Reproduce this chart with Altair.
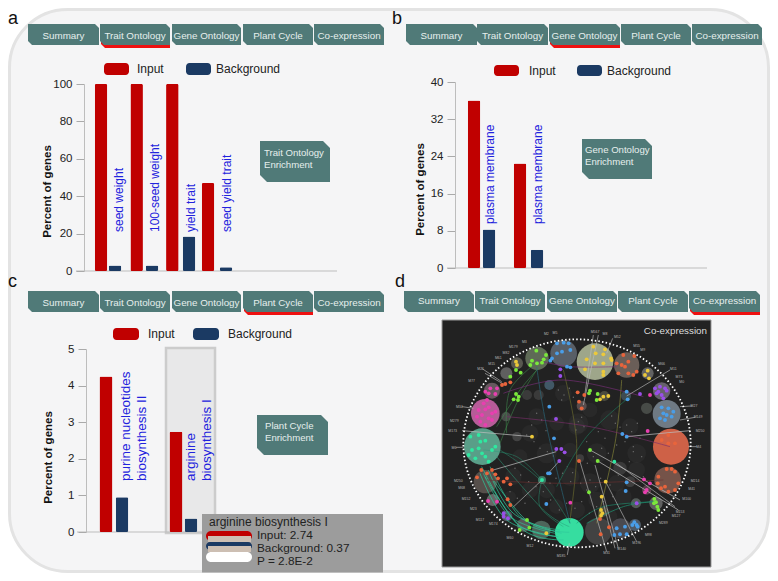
import altair as alt
import pandas as pd

FONT = "Liberation Sans"
TEAL = "#507a78"
RED = "#c00000"
NAVY = "#1b3a63"
BLUE = "#2222dd"
TAB_NAMES = ["Summary", "Trait Ontology", "Gene Ontology", "Plant Cycle", "Co-expression"]

# ---------- chart values ----------
A_TERMS = ["seed weight", "100-seed weight", "yield trait", "seed yield trait"]
A_INPUT = [100, 100, 100, 47]
A_BACK = [3, 3, 18.5, 2]
B_TERMS = ["plasma membrane", "plasma membrane"]
B_INPUT = [36, 22.5]
B_BACK = [8.3, 3.9]
C_TERMS = ["purine nucleotides\nbiosynthesis II", "arginine\nbiosynthesis I"]
C_INPUT = [4.25, 2.74]
C_BACK = [0.95, 0.37]
A_TICKS = [0, 20, 40, 60, 80, 100]
B_TICKS = [0, 8, 16, 24, 32, 40]
C_TICKS = [0, 1, 2, 3, 4, 5]
TIP_LINES = ["arginine biosynthesis I", "Input: 2.74", "Background: 0.37", "P = 2.8E-2"]

# ---------- co-expression network, in picture units ----------
DISC_X = [495, 590, 653, 695, 710, 723, 713, 678, 618, 615, 572, 505, 418, 334, 281, 231, 188, 166, 157, 166, 228, 186, 229, 261, 321, 401, 261, 358, 291, 326, 455, 523, 588, 650, 336, 450, 570, 600, 650, 520]
DISC_Y = [155, 165, 190, 243, 312, 410, 510, 580, 580, 645, 655, 663, 667, 660, 645, 618, 570, 515, 410, 310, 320, 242, 190, 160, 145, 130, 380, 225, 255, 255, 288, 258, 258, 295, 510, 445, 475, 515, 540, 605]
DISC_R = [55, 38, 18, 26, 42, 54, 40, 20, 15, 18, 30, 40, 43, 28, 20, 16, 18, 35, 55, 43, 14, 24, 18, 18, 35, 40, 14, 15, 15, 15, 15, 15, 15, 17, 12, 12, 20, 16, 14, 15]
DISC_C = ["#a5ae90", "#6f625c", "#666666", "#6a6570", "#74808a", "#d8654a", "#7a564c", "#646464", "#565f5c", "#515e6c", "#4c4c52", "#454545", "#38e8a8", "#51695f", "#5c5c5c", "#55555f", "#6c6c6c", "#5a524e", "#5da58e", "#c0609f", "#4c4c4c", "#6a5c62", "#636363", "#5c5c52", "#626f5a", "#5c626a", "#444444", "#435c6a", "#3c3c3c", "#3c3c3c", "#5c4e4e", "#4e4e40", "#404e54", "#4a4e4a", "#3f7f6a", "#404040", "#3c3c3c", "#404040", "#5c404e", "#4e4e40"]
DIM_X = [400, 445, 320, 300, 350, 420, 480, 540, 600, 620, 580, 500, 440, 380, 300, 250, 240, 270, 350, 440, 500, 560, 480, 420, 620, 380, 540]
DIM_Y = [250, 340, 320, 370, 430, 500, 520, 330, 350, 430, 560, 570, 600, 590, 540, 500, 560, 440, 540, 350, 430, 520, 300, 420, 480, 340, 620]
DIM_R = [25, 30, 25, 25, 30, 28, 30, 30, 25, 28, 25, 25, 25, 22, 25, 25, 18, 22, 25, 25, 30, 25, 22, 22, 25, 22, 22]
SPECK_X = [385, 402, 418, 395, 430, 445, 462, 438, 455, 320, 335, 305, 348, 290, 312, 330, 352, 370, 392, 412, 428, 480, 497, 512, 470, 525, 540, 556, 545, 570, 590, 605, 622, 610, 635, 598, 580, 565, 548, 520, 500, 478, 455, 435, 410, 388, 362, 340, 318, 296, 272, 255, 240, 262, 285, 360, 378, 398, 422, 452, 472, 490, 515, 535, 560, 585, 610, 630, 640, 505, 525, 470]
SPECK_Y = [240, 255, 235, 270, 262, 335, 350, 360, 322, 310, 330, 345, 362, 375, 395, 415, 425, 438, 452, 470, 488, 510, 530, 505, 540, 515, 525, 340, 318, 352, 345, 365, 340, 425, 440, 455, 470, 495, 560, 575, 590, 610, 575, 595, 580, 600, 570, 545, 530, 515, 495, 475, 545, 565, 580, 520, 505, 490, 515, 520, 460, 440, 415, 430, 405, 395, 410, 385, 500, 365, 385, 395]

NODE_COLORS = {"lime": "#7be83c", "yellow": "#ecc93a", "blue": "#4a9ee8", "purple": "#9a4fe8",
               "orange": "#e8643c", "pink": "#e83fb0", "mint": "#2fe8a0"}
# [colour, crop offset x, crop offset y, points]
NODES = [
    ["lime", 36, 30, [(283,92),(270,122),(265,135),(285,130),(300,128),(312,105),(305,118),(222,222),(230,230),(215,238),(228,240),(236,158),(222,150),(205,170)]],
    ["yellow", 36, 30, [(222,125),(225,135),(270,350)]],
    ["blue", 36, 30, [(345,70),(365,68),(380,70),(360,95),(345,100),(330,115),(325,122),(385,90),(375,140),(385,142),(322,260),(336,355)]],
    ["purple", 36, 30, [(355,148),(355,168),(342,297)]],
    ["orange", 36, 30, [(190,192),(205,187),(180,195)]],
    ["pink", 36, 30, [(130,215),(145,205),(165,205),(160,222),(140,220),(125,250),(140,262),(110,270),(130,268),(150,280),(120,285),(140,295),(115,305),(130,315),(150,300),(105,290),(135,240),(160,275)]],
    ["mint", 36, 30, [(110,345),(130,362),(85,350),(115,365)]],
    ["yellow", 435, 30, [(35,118),(62,100),(85,103),(55,80),(90,88),(108,115),(85,130),(60,130),(30,148),(85,155),(85,165),(110,120),(218,152),(210,165),(222,175),(85,230),(100,228),(75,238)]],
    ["orange", 435, 30, [(125,130),(145,105),(178,108),(160,125),(150,140),(185,155),(130,160),(160,160),(175,165),(140,135),(8,217),(28,225),(12,245),(20,265),(280,345),(260,360),(300,370),(280,370)]],
    ["lime", 435, 30, [(45,212),(68,222),(65,240),(42,220)]],
    ["blue", 435, 30, [(158,238),(155,215),(260,262),(280,265),(265,280),(290,290),(270,300),(255,295),(275,285),(295,275),(142,342),(155,350)]],
    ["purple", 435, 30, [(240,205),(255,200),(270,205),(245,220),(260,225),(275,212),(265,235),(195,222),(250,215)]],
    ["pink", 435, 30, [(225,225),(218,333)]],
    ["mint", 36, 405, [(90,15),(110,10),(130,35),(150,15),(100,40),(120,25),(300,105),(160,5),(80,30),(140,50)]],
    ["orange", 36, 405, [(118,75),(150,75),(105,97),(135,85),(160,88),(168,100),(195,100),(185,110),(205,118),(197,163),(205,180)]],
    ["pink", 36, 405, [(138,168),(165,170),(385,173)]],
    ["purple", 36, 405, [(185,205),(198,220),(185,215),(343,12),(358,12),(368,22),(352,48)]],
    ["lime", 36, 405, [(255,225),(262,248),(233,255)]],
    ["yellow", 36, 405, [(313,265)]],
    ["blue", 36, 405, [(318,85),(323,85),(313,177)]],
    ["lime", 435, 405, [(45,15),(68,48),(42,142),(238,162),(243,172),(247,185),(250,195),(237,175)]],
    ["orange", 435, 405, [(12,48),(275,72),(290,72),(300,80),(250,95),(248,115),(258,130),(280,140),(300,135),(310,115),(75,222),(102,247),(77,268),(270,125)]],
    ["mint", 435, 405, [(118,50)]],
    ["yellow", 435, 405, [(92,110),(80,155),(78,195),(82,205),(78,212)]],
    ["blue", 435, 405, [(155,112),(152,138),(172,240),(185,240),(178,232),(150,245),(125,250),(135,268),(118,270),(155,268),(188,245)]],
    ["pink", 435, 405, [(207,103),(225,115),(215,135),(210,142)]],
    ["purple", 435, 405, [(185,175)]],
]
# [colour, opacity, points]
EDGES = [
    ["#2fc89a", .8, [(418,667),(300,640),(190,510)]],
    ["#2fc89a", .8, [(400,690),(280,660),(165,500)]],
    ["#2fc89a", .8, [(385,680),(260,640),(155,470)]],
    ["#2fc89a", .8, [(380,680),(230,630),(150,490)]],
    ["#2fc89a", .8, [(395,670),(250,610),(175,480)]],
    ["#2fc89a", .7, [(375,670),(240,620),(160,490)]],
    ["#2fc89a", .7, [(390,660),(270,620),(180,470)]],
    ["#2a9e7a", .6, [(418,650),(340,600),(200,440)]],
    ["#2a9e7a", .5, [(420,640),(330,510),(210,420)]],
    ["#2a9e7a", .5, [(336,510),(260,440),(160,420)]],
    ["#2a9e7a", .5, [(336,510),(330,590),(400,650)]],
    ["#3f8f4f", .6, [(230,370),(240,240),(330,150)]],
    ["#3f8f4f", .6, [(200,350),(270,240),(330,170)]],
    ["#3f8f4f", .6, [(210,400),(260,280),(320,180)]],
    ["#1f6f55", .8, [(380,530),(470,380),(600,260)]],
    ["#1f8f6f", .8, [(470,640),(580,590),(670,575)]],
    ["#1f8f6f", .7, [(440,640),(520,590),(680,575)]],
    ["#8a8a3a", .7, [(575,210),(555,400),(500,640)]],
    ["#7a7a30", .6, [(400,180),(440,400),(420,630)]],
    ["#7a2f7a", .7, [(220,250),(400,210),(640,260)]],
    ["#7a2f6a", .7, [(230,320),(480,350),(720,410)]],
    ["#6a3030", .7, [(170,510),(400,520),(700,510)]],
    ["#7a2f7a", .7, [(320,150),(420,170),(560,170)]],
    ["#2a6a80", .7, [(320,170),(350,350),(420,640)]],
    ["#bdbdbd", .8, [(306,380),(96,362)]],
    ["#bdbdbd", .8, [(190,480),(379,425)]],
    ["#bdbdbd", .8, [(590,380),(780,362)]],
    ["#bdbdbd", .8, [(480,420),(750,570)]],
    ["#bdbdbd", .8, [(503,453),(745,600)]],
    ["#bdbdbd", .7, [(553,455),(735,590)]],
    ["#bdbdbd", .7, [(450,455),(530,725)]],
    ["#bdbdbd", .7, [(495,465),(565,715)]],
    ["#bdbdbd", .7, [(527,515),(620,695)]],
    ["#bdbdbd", .7, [(515,560),(555,715)]],
    ["#bdbdbd", .7, [(336,510),(251,590)]],
    ["#bdbdbd", .7, [(388,453),(355,490)]],
    ["#bdbdbd", .7, [(465,250),(490,75)]],
    ["#bdbdbd", .7, [(460,285),(505,75)]],
    ["#bdbdbd", .7, [(590,258),(720,180)]],
    ["#bdbdbd", .7, [(530,130),(548,85)]],
    ["#bdbdbd", .7, [(418,700),(412,735)]],
    ["#bdbdbd", .7, [(100,412),(78,412)]],
    ["#bdbdbd", .7, [(775,410),(800,410)]],
    ["#bdbdbd", .7, [(130,295),(96,290)]],
    ["#bdbdbd", .7, [(165,190),(225,225)]],
    ["#bdbdbd", .7, [(155,175),(215,215)]],
    ["#bdbdbd", .7, [(750,290),(785,288)]],
    ["#bdbdbd", .7, [(750,330),(795,322)]],
]
NET_LABELS = ["M2","M5","M567","M8","M52","M55","M9","M66","M11","M73","M0","M27","M149","M250","M4","M214","M41","M100","M153","M127","M289","M98","M196","M140","M31","M185","M12","M60","M174","M117","M23","M152","M68","M250","M6","M173","M279","M34","M77","M21","M15","M61","M82","M179","M3"]
NET_LABEL_X = [349,375,495,525,562,620,638,695,730,747,755,792,804,810,806,795,785,770,750,738,700,655,620,575,530,393,300,240,190,150,130,108,95,85,72,68,73,88,125,152,185,205,228,250,283]
NET_LABEL_Y = [72,70,67,72,82,107,120,163,178,200,216,288,322,362,412,513,537,568,605,618,640,675,698,718,730,738,708,683,643,630,597,568,535,513,413,363,333,290,212,176,163,145,128,112,95]

# ---------- helpers: everything below is given in page pixels ----------
OX, OY = 8, 8
ONE = alt.Data(values=[{}])
layers = []


def rect(x0, y0, x1, y1, fill, radius=0, stroke=None, sw=0):
    kw = {"cornerRadius": radius} if radius else {}
    if stroke:
        kw.update(stroke=stroke, strokeWidth=sw)
    layers.append(alt.Chart(ONE).mark_rect(fill=fill, **kw).encode(
        x=alt.value(x0 - OX), x2=alt.value(x1 - OX), y=alt.value(y0 - OY), y2=alt.value(y1 - OY)))


def txt(x, y, s, size=13, color="#222222", align="left", weight="normal", baseline="alphabetic"):
    layers.append(alt.Chart(ONE).mark_text(text=s, font=FONT, fontSize=size, fill=color, align=align,
                                           fontWeight=weight, baseline=baseline).encode(
        x=alt.value(x - OX), y=alt.value(y - OY)))


def notched(x0, y0, x1, y1, fill, cut=4):
    w, h = x1 - x0, y1 - y0
    path = f"M0,0L{w-cut},0L{w},{cut}L{w},{h}L{cut},{h}L0,{h-cut}Z"
    layers.append(alt.Chart(ONE).mark_point(shape=path, size=4, filled=True, fill=fill, opacity=1, strokeWidth=0).encode(
        x=alt.value(x0 - OX), y=alt.value(y0 - OY)))


def tabs(edges, y0, y1, active, label_y):
    for i, name in enumerate(TAB_NAMES):
        x0, x1 = edges[i]
        if i == active:
            notched(x0 + 1, y0 + 3, x1, y1 + 3, "#ee1111")
        notched(x0, y0, x1, y1, TEAL)
        txt((x0 + x1) / 2, label_y, name, size=9.8, color="#e6efed", align="center", baseline="middle")


def callout(x0, y0, x1, y1, lines, tx, ty):
    notched(x0, y0, x1, y1, TEAL, cut=7)
    for i, line in enumerate(lines):
        txt(tx, ty + i * 12, line, size=9.6, color="#e6efed", baseline="middle")


def legend(x_red, x_in, x_navy, x_bg, y0, y1, w):
    rect(x_red, y0, x_red + w, y1, RED, radius=3.5)
    txt(x_in, (y0 + y1) / 2, "Input", size=12, baseline="middle")
    rect(x_navy, y0, x_navy + w, y1, NAVY, radius=3.5)
    txt(x_bg, (y0 + y1) / 2, "Background", size=12, baseline="middle")


def band(first, last, n):
    step = (last - first) / (n - 1)
    return alt.Scale(type="band", domain=[str(i) for i in range(n)],
                     range=[first - step / 2 - OX, last + step / 2 - OX], padding=0)


def bars(values, color, first, last, yscale, width, axis=None):
    df = pd.DataFrame({"slot": [str(i) for i in range(len(values))], "v": values})
    y = alt.Y("v:Q", scale=yscale, axis=axis)
    layers.append(alt.Chart(df).mark_bar(size=width, color=color, cornerRadius=1.5).encode(
        x=alt.X("slot:N", scale=band(first, last, len(values)), axis=None), y=y))


def term_labels(terms, first, last, y, size, baseline="middle", line=16):
    df = pd.DataFrame({"slot": [str(i) for i in range(len(terms))], "t": terms})
    layers.append(alt.Chart(df).mark_text(font=FONT, fontSize=size, fill=BLUE, angle=270, align="left",
                                          baseline=baseline, lineBreak="\n", lineHeight=line).encode(
        x=alt.X("slot:N", scale=band(first, last, len(terms)), axis=None),
        y=alt.value(y - OY), text="t:N"))


def yaxis(x, ticks, title_x, title_y, fontsize):
    return alt.Axis(orient="left", offset=-(x - OX), values=ticks, title="Percent of genes", grid=False,
                    domainColor="#bdbdbd", domainWidth=1, tickColor="#aaaaaa", tickSize=8,
                    labelFont=FONT, labelFontSize=fontsize, labelColor="#222222", labelPadding=4,
                    titleFont=FONT, titleFontSize=11.5, titleFontWeight="bold", titleColor="#111111",
                    titleX=title_x - x, titleY=title_y - OY, zindex=1)


def baseline(x0, x1, y):
    layers.append(alt.Chart(ONE).mark_rule(color="#bdbdbd", strokeWidth=1).encode(
        x=alt.value(x0 - OX), x2=alt.value(x1 - OX), y=alt.value(y - OY)))


# ---------- page ----------
rect(9.5, 9.5, 768.5, 571.5, "#f5f5f6", radius=58, stroke="#e3e3e3", sw=3)
for letter, lx, ly in [("a", 8, 24), ("b", 392, 24), ("c", 8, 287), ("d", 395, 287)]:
    txt(lx, ly, letter, size=18, color="#111111")

# panel a
tabs([(28,99),(100,170),(172,241),(243,313),(314,384)], 24, 45, 1, 35.5)
legend(104, 137, 186, 216, 63, 75, 25)
baseline(76, 337, 271)
ys_a = alt.Scale(domain=[0, 100], range=[271 - OY, 84 - OY], nice=False)
bars(A_INPUT, RED, 101, 208, ys_a, 12.5, yaxis(84, A_TICKS, 52, 191, 11.5))
bars(A_BACK, NAVY, 115, 226, ys_a, 12.5)
term_labels(A_TERMS, 119, 227, 232, 12)
callout(260, 141, 330, 182, ["Trait Ontology", "Enrichment"], 264, 153)

# panel b
tabs([(406,477),(477,548),(549,620),(621,691),(692,762)], 24, 45, 2, 35.5)
legend(494, 529, 577, 607, 65, 76, 25)
baseline(447, 707, 268)
ys_b = alt.Scale(domain=[0, 40], range=[268 - OY, 82 - OY], nice=False)
bars(B_INPUT, RED, 474, 520, ys_b, 12.5, yaxis(455, B_TICKS, 425, 189, 11.5))
bars(B_BACK, NAVY, 489, 537, ys_b, 12.5)
term_labels(B_TERMS, 490, 538, 224, 12)
callout(582, 139, 652, 179, ["Gene Ontology", "Enrichment"], 585, 150)

# panel c
tabs([(28,99),(100,170),(172,241),(243,313),(314,384)], 291, 312, 3, 302.5)
legend(113, 148, 193, 228, 328, 340, 26)
rect(166, 348, 215, 533, "#e8e8e9", stroke="#cccccc", sw=2.5)
baseline(77, 240, 532)
ys_c = alt.Scale(domain=[0, 5], range=[532 - OY, 349 - OY], nice=False)
bars(C_INPUT, RED, 106, 176, ys_c, 13, yaxis(86, C_TICKS, 53, 457, 11.5))
bars(C_BACK, NAVY, 122, 191, ys_c, 12.5)
term_labels(C_TERMS, 130, 195, 481, 13.5, baseline="alphabetic", line=16)
callout(257, 415, 328, 455, ["Plant Cycle", "Enrichment"], 265, 426)

# tooltip of panel c
rect(202, 514, 383, 572.5, "#9c9c9c")
txt(209, 526, TIP_LINES[0], size=12)
rect(206, 531, 252, 541, RED, radius=5)
rect(208, 536, 251, 542, "#cdbfb3")
rect(206, 542, 252, 550, NAVY, radius=4)
rect(208, 546, 251, 552, "#cdbfb3")
rect(206, 552, 252, 562, "#ffffff", radius=5)
for i, s in enumerate(TIP_LINES[1:]):
    txt(257, 539 + i * 13, s, size=11.8)

# panel d
tabs([(404,474),(475,545),(547,617),(618,688),(689,760)], 291, 312, 4, 301)
rect(442, 320, 711, 567, "#222222", stroke="#999999", sw=1)

net_x = alt.Scale(domain=[36, 840], range=[442 - OX, 710 - OX], nice=False, zero=False)
net_y = alt.Scale(domain=[30, 772], range=[320 - OY, 567.3 - OY], nice=False, zero=False)
X = alt.X("x:Q", scale=net_x, axis=None)
Y = alt.Y("y:Q", scale=net_y, axis=None)

dim = pd.DataFrame({"x": DIM_X, "y": DIM_Y, "s": [(2 * r / 3) ** 2 for r in DIM_R]})
layers.append(alt.Chart(dim).mark_circle(color="#6a6a6a", opacity=.10).encode(
    x=X, y=Y, size=alt.Size("s:Q", scale=None, legend=None)))

speck = pd.DataFrame({"x": SPECK_X, "y": SPECK_Y})
layers.append(alt.Chart(speck).mark_circle(color="#8a8a8a", opacity=.7, size=2).encode(x=X, y=Y))

disc = pd.DataFrame({"x": DISC_X, "y": DISC_Y, "s": [(2 * r / 3) ** 2 for r in DISC_R], "c": DISC_C})
layers.append(alt.Chart(disc).mark_circle(opacity=.95).encode(
    x=X, y=Y, size=alt.Size("s:Q", scale=None, legend=None),
    color=alt.Color("c:N", scale=None, legend=None)))

rows = []
for i, (c, o, pts) in enumerate(EDGES):
    for j, (ex, ey) in enumerate(pts):
        rows.append({"x": ex, "y": ey, "e": i, "n": j, "c": c, "o": o})
edge_df = pd.DataFrame(rows)
layers.append(alt.Chart(edge_df).mark_line(interpolate="cardinal", strokeWidth=.9).encode(
    x=X, y=Y, detail="e:N", order="n:Q",
    color=alt.Color("c:N", scale=None, legend=None),
    opacity=alt.Opacity("o:Q", scale=None, legend=None)))

node_rows = []
for name, ox, oy, pts in NODES:
    for nx, ny in pts:
        node_rows.append({"x": nx + ox, "y": ny + oy, "c": NODE_COLORS[name]})
layers.append(alt.Chart(pd.DataFrame(node_rows)).mark_circle(size=15, opacity=1).encode(
    x=X, y=Y, color=alt.Color("c:N", scale=None, legend=None)))

ring = pd.DataFrame({"x": [441], "y": [400]})
rx, ry = 341 / 3, 312 / 3
ring_path = f"M{-rx},0A{rx},{ry} 0 1,1 {rx},0A{rx},{ry} 0 1,1 {-rx},0Z"
layers.append(alt.Chart(ring).mark_point(shape=ring_path, size=4, filled=False, stroke="#ffffff", strokeWidth=1.8,
                                         strokeDash=[1.5, 2.2], opacity=1).encode(x=X, y=Y))

lab = pd.DataFrame({"x": NET_LABEL_X, "y": NET_LABEL_Y, "t": NET_LABELS})
layers.append(alt.Chart(lab).mark_text(font=FONT, fontSize=3.5, fill="#b5b5b5").encode(x=X, y=Y, text="t:N"))
txt(707, 331, "Co-expression", size=9.8, color="#dddddd", align="right", baseline="middle")

chart = alt.layer(*layers).resolve_scale(x="independent", y="independent").resolve_axis(
    x="independent", y="independent"
).properties(
    width=762, height=565, padding=0, autosize=alt.AutoSizeParams(type="none"), background="#ffffff"
).configure_view(stroke=None)

chart.save("out.html", embed_options={"renderer": "svg", "actions": False})
